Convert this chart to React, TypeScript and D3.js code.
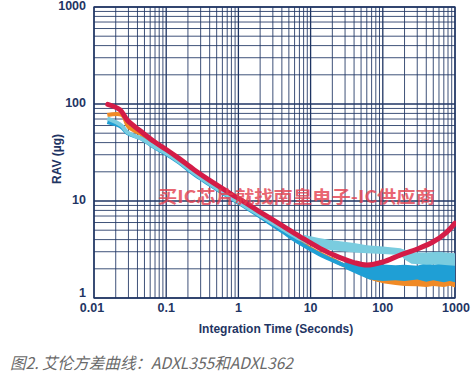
import React from "react";
import * as d3 from "d3";

// ---------- data ----------
const xTickValues = [0.01, 0.1, 1, 10, 100, 1000];
const xTickLabels = ["0.01", "0.1", "1", "10", "100", "1000"];
const yTickValues = [1, 10, 100, 1000];
const yTickLabels = ["1", "10", "100", "1000"];

// Red series
const redT = [0.0155, 0.023, 0.029, 0.045, 0.068, 0.1, 0.15, 0.243, 0.4, 0.766, 1.2, 2, 4, 7.1, 13.5, 25, 40, 60, 100, 174, 300, 500, 750, 1000];
const redV = [99, 87, 68, 52, 41, 34, 27.5, 21, 16.3, 12, 9.8, 7.7, 5.6, 4.3, 3.25, 2.62, 2.32, 2.19, 2.35, 2.77, 3.2, 3.8, 4.7, 5.9];

// Orange series
const orT = [0.0153, 0.0245, 0.03, 0.045, 0.068, 0.1, 0.15, 0.24, 0.4, 0.77, 1.2, 2, 4, 7, 13, 20, 30, 45, 65, 90];
const orV = [77, 77, 58, 49, 39, 32.5, 26.5, 20, 15.5, 11.4, 9.3, 7.2, 5.1, 3.8, 2.9, 2.5, 2.15, 1.9, 1.65, 1.52];
const orBandT = [60, 100, 150, 200, 300, 400, 500, 700, 850, 1000];
const orBandLo = [1.6, 1.42, 1.36, 1.33, 1.32, 1.3, 1.33, 1.3, 1.34, 1.28];
const orBandHi = [1.95, 1.7, 1.62, 1.65, 1.6, 1.72, 1.66, 1.7, 1.64, 1.6];

// Medium blue series
const mbT = [0.0153, 0.024, 0.029, 0.045, 0.068, 0.1, 0.15, 0.24, 0.4, 0.77, 1.2, 2, 4, 7, 13, 20, 30, 45, 65];
const mbV = [65, 58, 50, 44, 36, 30.5, 25, 19, 14.8, 10.8, 8.8, 6.9, 4.9, 3.7, 2.85, 2.45, 2.15, 1.95, 1.85];
const mbBandT = [30, 45, 65, 100, 150, 200, 300, 400, 500, 700, 850, 1000];
const mbBandLo = [2.0, 1.75, 1.55, 1.5, 1.52, 1.5, 1.55, 1.47, 1.52, 1.45, 1.5, 1.45];
const mbBandHi = [2.4, 2.3, 2.25, 2.22, 2.18, 2.2, 2.15, 2.3, 2.2, 2.3, 2.25, 2.35];

// Light cyan series
const lcT = [0.0153, 0.024, 0.029, 0.045, 0.068, 0.1, 0.15, 0.24, 0.4, 0.77, 1.2, 2, 4, 7, 10];
const lcV = [71, 60, 51, 44, 36.5, 31, 25.5, 19.5, 15, 11, 9, 7.1, 5.2, 4.1, 3.8];
const lcBandT = [8, 13, 20, 40, 60, 100, 175, 200, 250, 400, 600, 800, 1000];
const lcBandLo = [3.7, 3.25, 3.1, 2.95, 2.9, 2.85, 2.78, 2.5, 2.25, 2.2, 2.22, 2.18, 2.15];
const lcBandHi = [4.5, 4.15, 3.95, 3.7, 3.5, 3.4, 3.25, 3.15, 2.95, 2.95, 3.0, 2.92, 2.9];

const xTitle = "Integration Time (Seconds)";
const yTitle = "RAV (µg)";
const caption = "图2. 艾伦方差曲线：ADXL355和ADXL362";
const watermark = "买IC芯片就找南皇电子-IC供应商";

// ---------- layout ----------
const W = 476;
const H = 378;
const left = 94;
const right = 455;
const top = 7;
const bottom = 298;

const NAVY = "#1f3563";
const RED = "#d41c47";
const ORANGE = "#f08a26";
const MBLUE = "#1f9fd5";
const LCYAN = "#7accdf";

export default function App() {
  const x = d3.scaleLog().domain([0.01, 1000]).range([left, right]);
  const y = d3.scaleLog().domain([1, 1000]).range([bottom, top]);

  const gridX: number[] = [];
  for (let e = -2; e < 3; e++) for (let k = 1; k <= 9; k++) gridX.push(k * Math.pow(10, e));
  gridX.push(1000);
  const gridY: number[] = [];
  for (let e = 0; e < 3; e++) for (let k = 1; k <= 9; k++) gridY.push(k * Math.pow(10, e));
  gridY.push(1000);

  const line = d3
    .line<[number, number]>()
    .x((d) => x(d[0]))
    .y((d) => y(d[1]))
    .curve(d3.curveCatmullRom.alpha(0.5));

  const area = d3
    .area<[number, number, number]>()
    .x((d) => x(d[0]))
    .y0((d) => y(d[1]))
    .y1((d) => y(d[2]))
    .curve(d3.curveLinear);

  const zip = (t: number[], v: number[]) => t.map((ti, i) => [ti, v[i]] as [number, number]);
  const zip3 = (t: number[], lo: number[], hi: number[]) =>
    t.map((ti, i) => [ti, lo[i], hi[i]] as [number, number, number]);

  const isMajor = (v: number) => Math.abs(Math.log10(v) - Math.round(Math.log10(v))) < 1e-9;

  return (
    <svg
      width={W}
      height={H}
      style={{ position: "absolute", left: 0, top: 0, background: "#fff" }}
      fontFamily="'Liberation Sans', Arial, sans-serif"
    >
      <rect x={0} y={0} width={W} height={H} fill="#fff" />
      <defs>
        <clipPath id="plotclip">
          <rect x={left} y={top} width={right - left + 1} height={bottom - top} />
        </clipPath>
      </defs>
      {/* grid */}
      <g>
        {gridX.map((v, i) => (
          <line
            key={"gx" + i}
            x1={x(v)}
            x2={x(v)}
            y1={top}
            y2={bottom}
            stroke={NAVY}
            strokeWidth={isMajor(v) ? 1.3 : 1}
            opacity={isMajor(v) ? 1 : 0.85}
          />
        ))}
        {gridY.map((v, i) => (
          <line
            key={"gy" + i}
            x1={left}
            x2={right}
            y1={y(v)}
            y2={y(v)}
            stroke={NAVY}
            strokeWidth={isMajor(v) ? 1.3 : 1}
            opacity={isMajor(v) ? 1 : 0.85}
          />
        ))}
        <rect x={left} y={top} width={right - left} height={bottom - top} fill="none" stroke={NAVY} strokeWidth={1.3} />
      </g>

      {/* series */}
      <g clipPath="url(#plotclip)">
        <path d={area(zip3(orBandT, orBandLo, orBandHi)) || ""} fill={ORANGE} />
        <path d={line(zip(orT, orV)) || ""} fill="none" stroke={ORANGE} strokeWidth={4} strokeLinejoin="round" />
        <path d={area(zip3(mbBandT, mbBandLo, mbBandHi)) || ""} fill={MBLUE} />
        <path d={line(zip(mbT, mbV)) || ""} fill="none" stroke={MBLUE} strokeWidth={4} strokeLinejoin="round" />
        <path d={area(zip3(lcBandT, lcBandLo, lcBandHi)) || ""} fill={LCYAN} />
        <path d={line(zip(lcT, lcV)) || ""} fill="none" stroke={LCYAN} strokeWidth={4} strokeLinejoin="round" />
        <path d={line(zip(redT, redV)) || ""} fill="none" stroke={RED} strokeWidth={5} strokeLinejoin="round" strokeLinecap="round" />
      </g>

      {/* watermark */}
      <text
        x={158}
        y={198}
        dominantBaseline="middle"
        fontFamily="'Noto Sans CJK SC', sans-serif"
        fontWeight="bold"
        fontSize={17}
        fill="#e4404f"
        opacity={0.8}
        textLength={277}
        lengthAdjust="spacingAndGlyphs"
      >
        {watermark}
      </text>

      {/* y ticks */}
      {yTickValues.map((v, i) => (
        <text
          key={"yt" + i}
          x={86}
          y={v === 1 ? y(v) - 4 : y(v)}
          textAnchor="end"
          dominantBaseline="middle"
          fontSize={12.5}
          fontWeight="bold"
          fill={NAVY}
        >
          {yTickLabels[i]}
        </text>
      ))}
      {/* x ticks */}
      {xTickValues.map((v, i) => (
        <text
          key={"xt" + i}
          x={x(v) + (i === 0 ? -2 : i === xTickValues.length - 1 ? 1 : 0)}
          y={309}
          textAnchor="middle"
          dominantBaseline="middle"
          fontSize={12.5}
          fontWeight="bold"
          fill={NAVY}
        >
          {xTickLabels[i]}
        </text>
      ))}

      {/* axis titles */}
      <text x={276} y={330} textAnchor="middle" dominantBaseline="middle" fontSize={12} fontWeight="bold" fill={NAVY}>
        {xTitle}
      </text>
      <text
        transform="translate(58,159) rotate(-90)"
        textAnchor="middle"
        dominantBaseline="middle"
        fontSize={12}
        fontWeight="bold"
        fill={NAVY}
      >
        {yTitle}
      </text>

      {/* caption */}
      <text
        x={10}
        y={365}
        dominantBaseline="middle"
        fontFamily="'Noto Sans CJK SC', sans-serif"
        fontSize={16}
        fontStyle="italic"
        fill="#6a6a6a"
        textLength={283}
        lengthAdjust="spacingAndGlyphs"
      >
        {caption}
      </text>
    </svg>
  );
}
